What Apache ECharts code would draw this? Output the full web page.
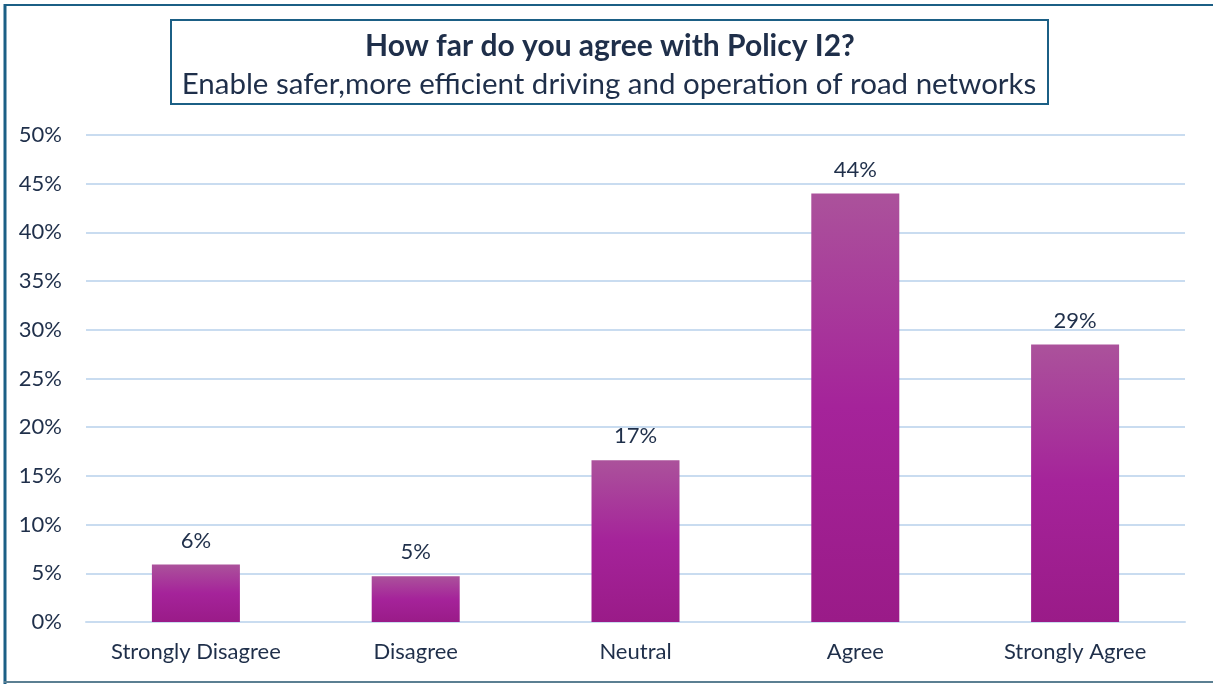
<!DOCTYPE html>
<html>
<head>
<meta charset="utf-8">
<script src="https://cdn.jsdelivr.net/npm/echarts@6/dist/echarts.min.js"></script>
<style>
  html, body { margin: 0; padding: 0; background: #ffffff; }
  #chart { width: 1213px; height: 684px; }
</style>
</head>
<body>
<div id="chart"></div>
<script>
// Survey responses to Policy I2 (share of respondents, %)
const categories = ['Strongly Disagree', 'Disagree', 'Neutral', 'Agree', 'Strongly Agree'];
const shares = [5.9, 4.7, 16.6, 44.0, 28.5];
const yTicks = [0, 5, 10, 15, 20, 25, 30, 35, 40, 45, 50];

const titleText = 'How far do you agree with Policy I2?';
const subtitleText = 'Enable safer,more efficient driving and operation of road networks';

const FONT = 'Lato, "Open Sans", sans-serif';
const TEXT_COLOR = '#1F2F4A';
const FRAME_COLOR = '#1B5F85';

const chart = echarts.init(document.getElementById('chart'), null, { renderer: 'canvas' });

chart.setOption({
  backgroundColor: '#ffffff',
  animation: false,
  textStyle: { fontFamily: FONT },
  graphic: [
    // outer frame: left, top and bottom edges
    { type: 'line', shape: { x1: 5, y1: 4, x2: 5, y2: 684 }, style: { stroke: FRAME_COLOR, lineWidth: 3 }, z: 10 },
    { type: 'line', shape: { x1: 4, y1: 5, x2: 1213, y2: 5 }, style: { stroke: FRAME_COLOR, lineWidth: 2 }, z: 10 },
    { type: 'line', shape: { x1: 4, y1: 682, x2: 1213, y2: 682 }, style: { stroke: '#5B7F92', lineWidth: 2 }, z: 10 },
    // title box with heading and sub-heading
    { type: 'rect', shape: { x: 171, y: 20, width: 877, height: 84 }, style: { fill: 'none', stroke: FRAME_COLOR, lineWidth: 2 }, z: 10 },
    {
      type: 'text', x: 610, y: 46, z: 10,
      style: {
        text: titleText, fontFamily: FONT, fontSize: 30, fontWeight: 'bold',
        fill: TEXT_COLOR, align: 'center', verticalAlign: 'middle'
      }
    },
    {
      type: 'text', x: 609, y: 84, z: 10,
      style: {
        text: subtitleText, fontFamily: FONT, fontSize: 29.5,
        fill: TEXT_COLOR, align: 'center', verticalAlign: 'middle'
      }
    }
  ],
  grid: { left: 86, right: 28, top: 135, bottom: 62, containLabel: false },
  xAxis: {
    type: 'category',
    data: categories,
    axisLine: { show: true, lineStyle: { color: '#C9DCF0', width: 2 } },
    axisTick: { show: false },
    axisLabel: { interval: 0, fontFamily: FONT, fontSize: 22, color: TEXT_COLOR, margin: 19 }
  },
  yAxis: {
    type: 'value',
    min: yTicks[0],
    max: yTicks[yTicks.length - 1],
    interval: 5,
    axisLine: { show: false },
    axisTick: { show: false },
    splitLine: { lineStyle: { color: '#C9DCF0', width: 2 } },
    axisLabel: {
      fontFamily: FONT, fontSize: 22, color: TEXT_COLOR, margin: 24,
      formatter: v => v + '%'
    }
  },
  series: [{
    type: 'bar',
    data: shares,
    barWidth: 88,
    itemStyle: {
      color: new echarts.graphic.LinearGradient(0, 0, 0, 1, [
        { offset: 0, color: '#AB529B' },
        { offset: 0.5, color: '#A5239A' },
        { offset: 1, color: '#9A1B88' }
      ])
    },
    label: {
      show: true,
      position: 'top',
      distance: 13,
      fontFamily: FONT,
      fontSize: 22,
      color: TEXT_COLOR,
      formatter: p => Math.round(p.value) + '%'
    }
  }]
});
</script>
</body>
</html>
